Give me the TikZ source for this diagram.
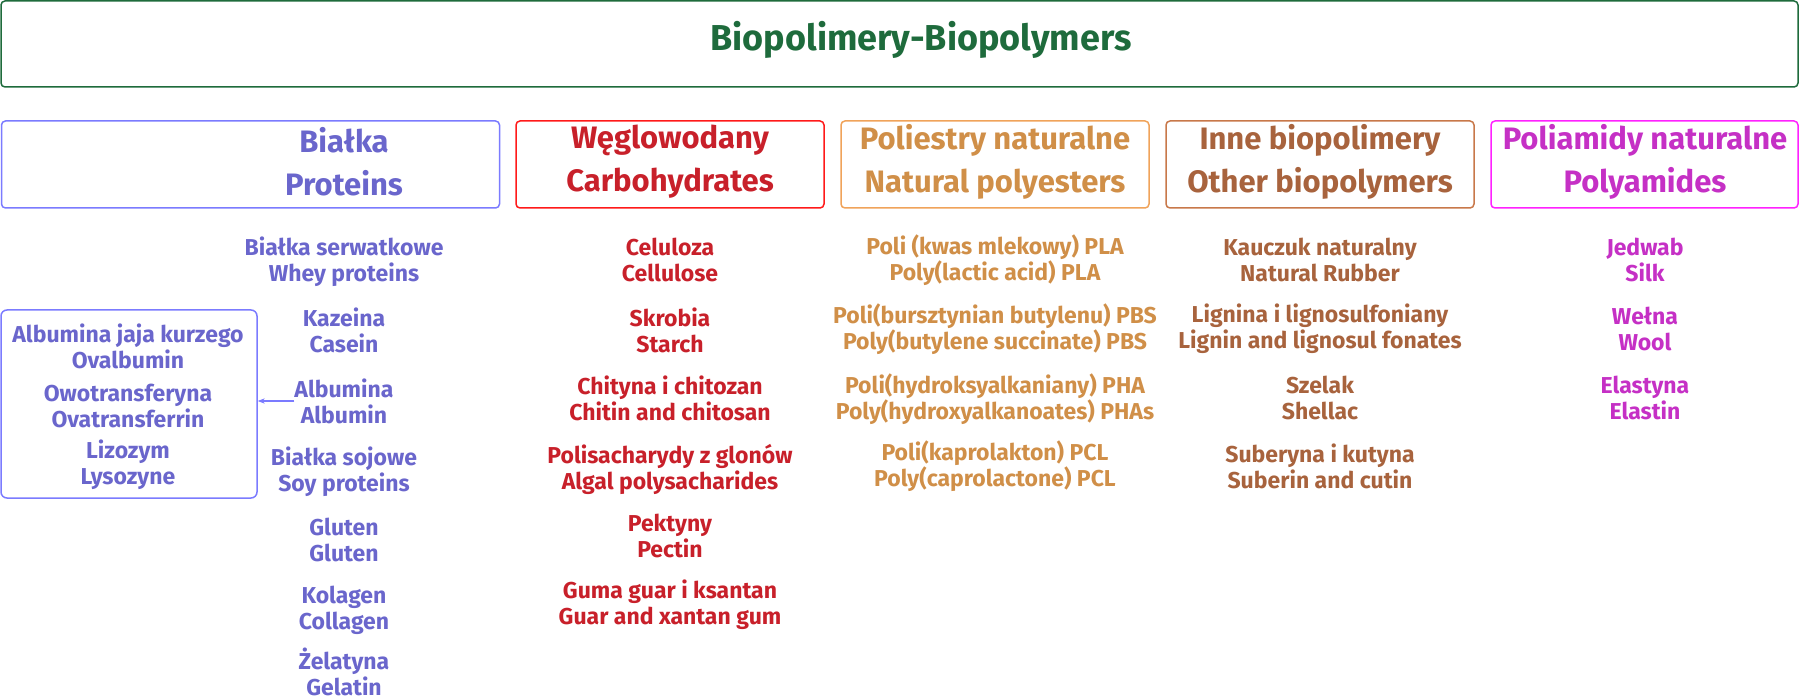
\documentclass[tikz,border=0pt]{standalone}
\usepackage{fontspec}
\setmainfont{Fira Sans}
\usetikzlibrary{arrows.meta}
\definecolor{titlec}{HTML}{1E6B3C}
\definecolor{protc}{HTML}{6A66CC}
\definecolor{protb}{HTML}{7B7BFF}
\definecolor{carbc}{HTML}{C8202A}
\definecolor{carbb}{HTML}{FF1A1A}
\definecolor{estc}{HTML}{D08F48}
\definecolor{estb}{HTML}{F0A35A}
\definecolor{othc}{HTML}{A8633D}
\definecolor{othb}{HTML}{C8784A}
\definecolor{amidc}{HTML}{C530C5}
\definecolor{amidb}{HTML}{FF22FF}

\begin{document}
\begin{tikzpicture}[x=1pt, y=-1pt,
  box/.style={draw=#1, line width=1.5pt, rounded corners=4pt, minimum height=87pt, inner sep=0pt},
  hdr/.style={text=#1, align=center, inner sep=0pt, font=\fontsize{31}{43}\selectfont\bfseries},
  itm/.style={text=#1, align=center, inner sep=0pt, font=\fontsize{23}{26}\selectfont\bfseries}]
\useasboundingbox (0,0) rectangle (1800,700);
\node[box=titlec, minimum width=1797pt, minimum height=86pt] (topbox) at (899.5,44) {};
\node[text=titlec, inner sep=0pt, font=\fontsize{36}{40}\selectfont\bfseries] (title) at (921,40) {Biopolimery-Biopolymers};

\node[box=protb, minimum width=498pt] (protbox) at (250.5,164.5) {};
\node[box=carbb, minimum width=308pt] (carbbox) at (670,164.5) {};
\node[box=estb, minimum width=308pt] (estbox) at (995,164.5) {};
\node[box=othb, minimum width=308pt] (othbox) at (1320,164.5) {};
\node[box=amidb, minimum width=307pt] (amidbox) at (1644.5,164.5) {};
\node[hdr=protc] (prot) at (344,162) {Białka\\Proteins};
\node[hdr=carbc] (carb) at (670,162) {Węglowodany\\Carbohydrates};
\node[hdr=estc] (est) at (995,162) {Poliestry naturalne\\Natural polyesters};
\node[hdr=othc] (oth) at (1320,162) {Inne biopolimery\\Other biopolymers};
\node[hdr=amidc] (amid) at (1645,162) {Poliamidy naturalne\\Polyamides};

\node[itm=protc] (whey) at (344,261.5) {Białka serwatkowe\\Whey proteins};
\node[itm=protc] (casein) at (344,330) {Kazeina\\Casein};
\node[itm=protc] (albumin) at (344,401) {Albumina\\Albumin};
\node[itm=protc] (soy) at (344,471.5) {Białka sojowe\\Soy proteins};
\node[itm=protc] (gluten) at (344,540) {Gluten\\Gluten};
\node[itm=protc] (collagen) at (344,610) {Kolagen\\Collagen};
\node[itm=protc] (gelatin) at (344,672) {Żelatyna\\Gelatin};

\node[draw=protb, line width=1.5pt, rounded corners=6pt, minimum width=256pt, minimum height=188pt] (eggbox) at (129,404) {};
\node[itm=protc] (ovalb) at (128,346.5) {Albumina jaja kurzego\\Ovalbumin};
\node[itm=protc] (ovotr) at (128,406) {Owotransferyna\\Ovatransferrin};
\node[itm=protc] (lyso) at (128,465) {Lizozym\\Lysozyne};
\draw[-{Stealth[length=7pt]}, protb, line width=1.2pt] (albumin.west) -- (albumin.west -| eggbox.east);

\node[itm=carbc] (cell) at (670,260) {Celuloza\\Cellulose};
\node[itm=carbc] (starch) at (670,330) {Skrobia\\Starch};
\node[itm=carbc] (chitin) at (670,398.5) {Chityna i chitozan\\Chitin and chitosan};
\node[itm=carbc] (algal) at (670,469) {Polisacharydy z glonów\\Algal polysacharides};
\node[itm=carbc] (pectin) at (670,536) {Pektyny\\Pectin};
\node[itm=carbc] (gum) at (670,605) {Guma guar i ksantan\\Guar and xantan gum};

\node[itm=estc] (pla) at (995,260) {Poli (kwas mlekowy) PLA\\Poly(lactic acid) PLA};
\node[itm=estc] (pbs) at (995,329) {Poli(bursztynian butylenu) PBS\\Poly(butylene succinate) PBS};
\node[itm=estc] (pha) at (995,399) {Poli(hydroksyalkaniany) PHA\\Poly(hydroxyalkanoates) PHAs};
\node[itm=estc] (pcl) at (995,466.5) {Poli(kaprolakton) PCL\\Poly(caprolactone) PCL};

\node[itm=othc] (rubber) at (1320,260) {Kauczuk naturalny\\Natural Rubber};
\node[itm=othc] (lignin) at (1320,329) {Lignina i lignosulfoniany\\Lignin and lignosul fonates};
\node[itm=othc] (shellac) at (1320,398) {Szelak\\Shellac};
\node[itm=othc] (suberin) at (1320,466.5) {Suberyna i kutyna\\Suberin and cutin};

\node[itm=amidc] (silk) at (1645,260) {Jedwab\\Silk};
\node[itm=amidc] (wool) at (1645,329) {Wełna\\Wool};
\node[itm=amidc] (elastin) at (1645,398) {Elastyna\\Elastin};
\end{tikzpicture}
\end{document}
